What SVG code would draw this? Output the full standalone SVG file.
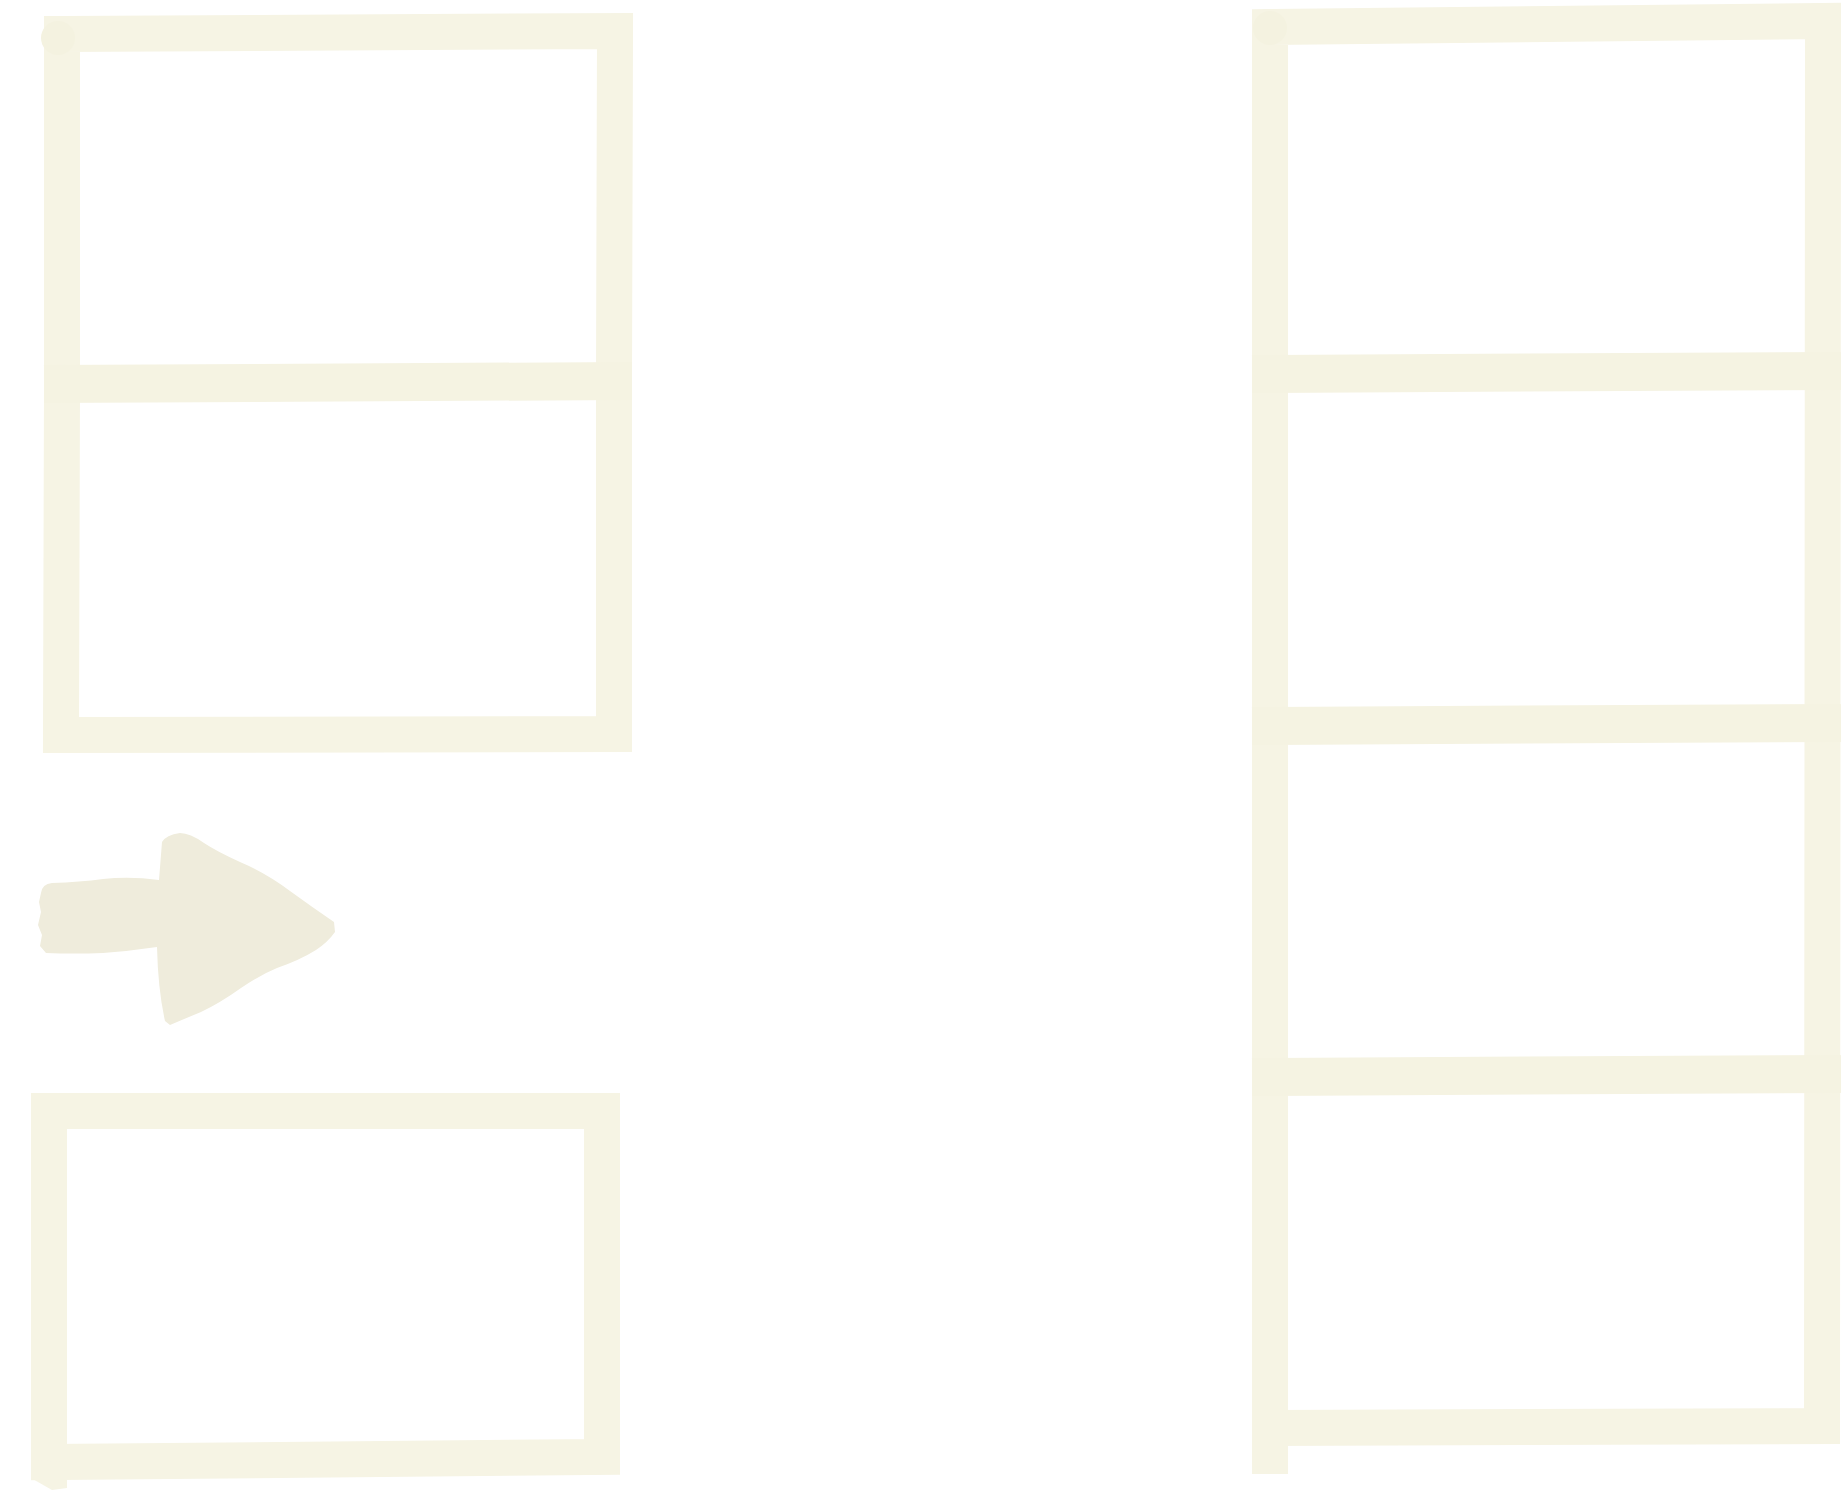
<svg xmlns="http://www.w3.org/2000/svg" width="1842" height="1508" viewBox="0 0 1842 1508">
  <style>
    .frame { fill: none; stroke: #f6f4e4; stroke-width: 36; stroke-linejoin: miter; stroke-linecap: square; }
    .divider { fill: none; stroke: #f5f3e2; stroke-width: 38; stroke-linecap: butt; }
    .arrow { fill: #efecdc; stroke: none; }
  </style>
  <rect x="0" y="0" width="1842" height="1508" fill="#ffffff"/>

  <g id="stack-left-top">
    <path class="frame" d="M62,34 L615,31 L614,383 L614,734 L61,735 L62,383 Z"/>
    <path class="divider" d="M44,384 L632,381"/>
    <circle cx="58" cy="38" r="17" fill="#f4f2e0"/>
  </g>

  <g id="box-left-bottom">
    <path class="frame" d="M49,1111 L602,1111 L602,1457 L49,1462 Z"/>
    <path d="M31,1460 L31,1478 L52,1490 L67,1488 L67,1462 Z" fill="#f6f4e4"/>
  </g>

  <g id="stack-right">
    <path class="frame" d="M1270,27 L1823,21 L1822,1426 L1270,1428 Z"/>
    <path class="divider" d="M1252,374 L1841,371"/>
    <path class="divider" d="M1252,726 L1841,723"/>
    <path class="divider" d="M1252,1077 L1841,1074"/>
    <path class="frame" d="M1270,1428 L1270,1456"/>
    <circle cx="1270" cy="28" r="17" fill="#f4f2e0"/>
  </g>

  <g id="connectors">
    <path class="arrow" d="M41,893 Q42,884 52,883 Q80,882 103,879 Q130,876 159,880 L162,842 Q166,835 180,833 Q190,833 204,843 Q216,851 240,862 Q266,873 290,891 Q312,907 334,922 L335,932 Q328,942 316,950 Q300,960 277,968 Q260,975 241,988 Q220,1003 201,1012 Q184,1019 170,1025 L165,1021 Q158,990 157,947 Q130,951 103,953 Q74,954 46,953 L40,946 L42,935 L38,925 L41,912 L39,902 Z"/>
  </g>
</svg>
